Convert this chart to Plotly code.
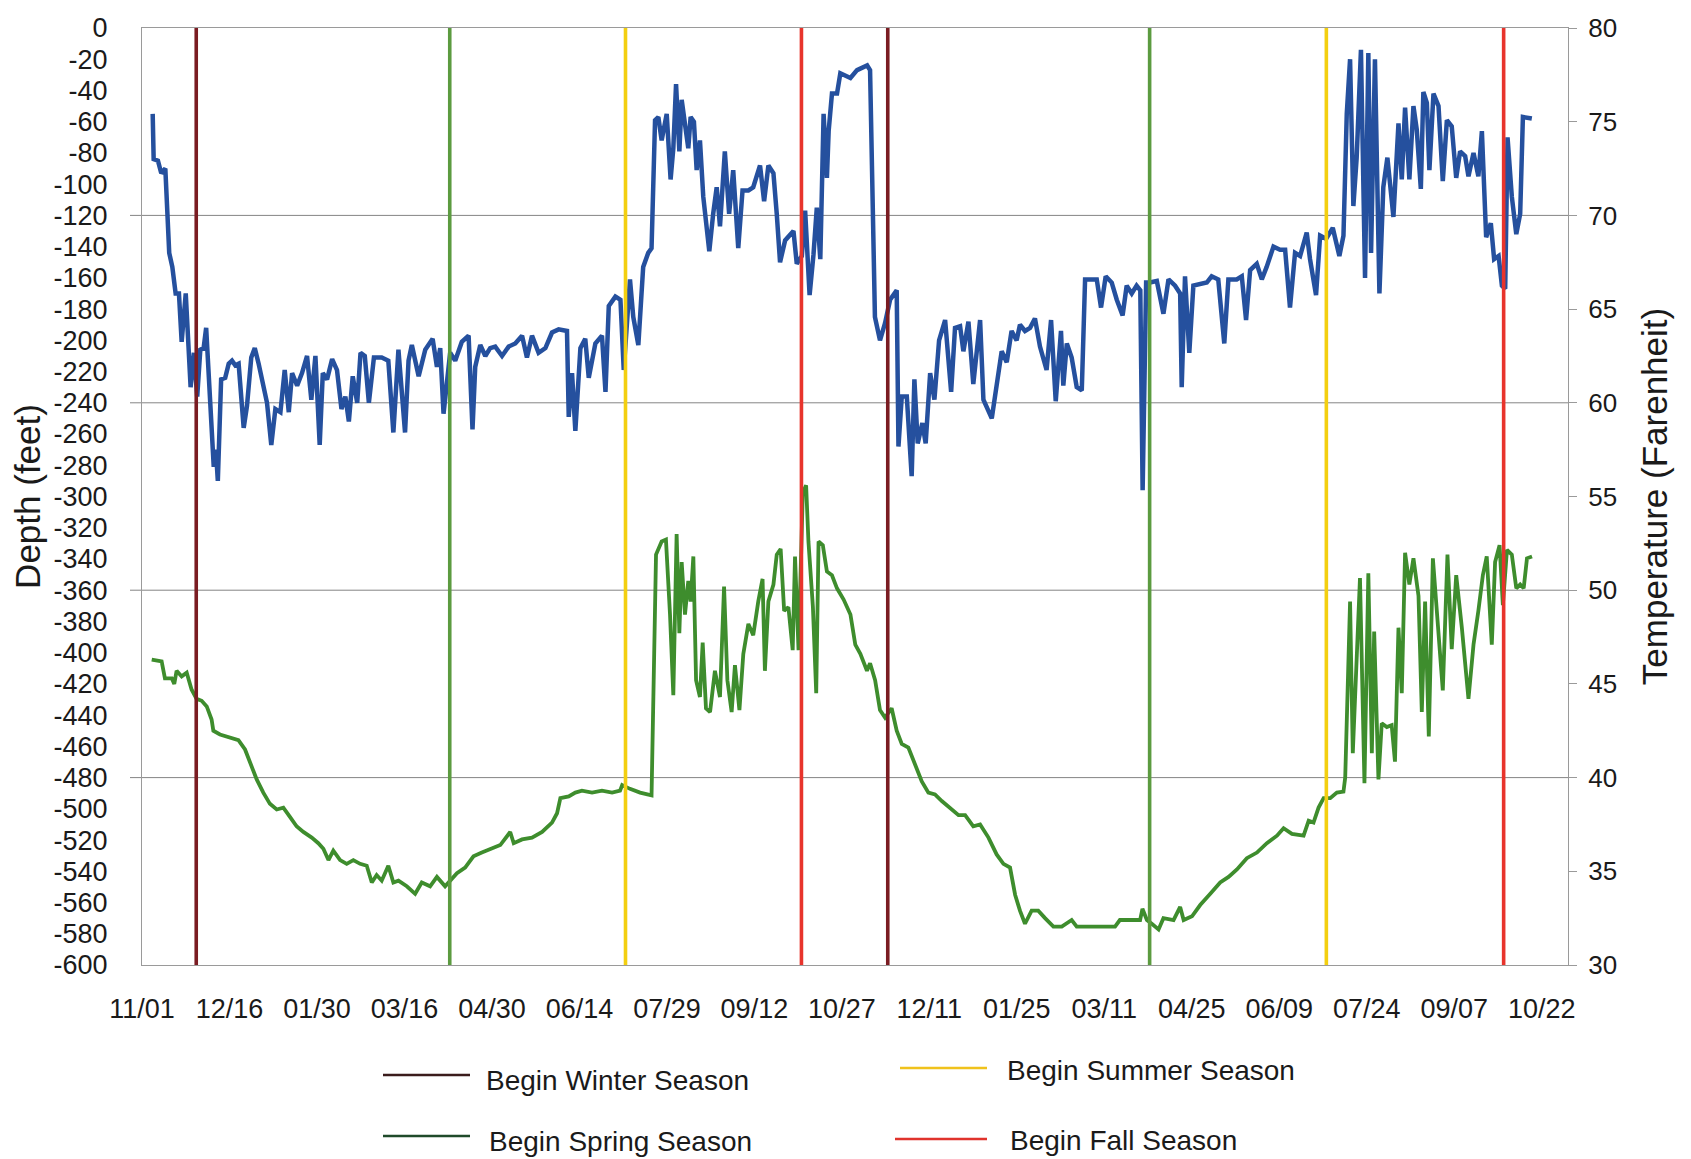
import pandas as pd
import plotly.graph_objects as go

# ---------------- data ----------------
START = "2009-11-01"  # first x tick (11/01); x values below are day offsets from it

x_tick_days = [0, 45, 90, 135, 180, 225, 270, 315, 360, 405, 450, 495, 540, 585, 630, 675, 720]
x_tick_labels = ["11/01", "12/16", "01/30", "03/16", "04/30", "06/14", "07/29", "09/12", "10/27",
                 "12/11", "01/25", "03/11", "04/25", "06/09", "07/24", "09/07", "10/22"]

depth_ticks = [0, -20, -40, -60, -80, -100, -120, -140, -160, -180, -200, -220, -240, -260, -280,
               -300, -320, -340, -360, -380, -400, -420, -440, -460, -480, -500, -520, -540, -560,
               -580, -600]
temp_ticks = [30, 35, 40, 45, 50, 55, 60, 65, 70, 75, 80]
grid_temps = [40, 50, 60, 70]

# blue series (depth, feet)
blue_days = [5.5, 6, 8.2, 9.9, 12, 14, 15.6, 17.3, 19, 20.4, 22.5, 23.8, 25, 26.7, 28.4, 30, 31.7, 33,
             34.3, 36.9, 38, 39, 40.7, 42.8, 44.6, 46.3, 48, 49.7, 52.3, 54, 56.2, 58, 60, 62.6, 64.3,
             66.5, 68.6, 71.2, 73.4, 75.5, 77.2, 79.8, 82.3, 84.9, 87.1, 89.2, 91.4, 93, 95.2, 97.8,
             100.3, 102.6, 104.6, 106.4, 108.4, 110.7, 112.4, 114.6, 116.7, 119.3,
             123.3, 126.7, 129.3, 131.9, 135.3, 137.1, 138.8, 142.3, 145.7, 149.5, 151.7, 153.4, 155.1,
             158.5, 161.1, 164.5, 168, 170, 171.4, 174, 176.6, 179.1, 181.7, 185.2, 188.6, 192, 195.5,
             198, 200.6, 204, 207.5, 210.9, 214.3, 218.6, 219.5, 221.2, 222.9, 225.5, 228, 229.8,
             233.2, 236.6, 238.4, 240.1, 243.5, 246.1, 247.8,
             251, 252.7, 255.3, 257.8, 260.4, 262.1, 263.9, 265.6, 267.3, 269.9, 271.9, 273.3, 274.7,
             276.4, 277.6, 279.3, 281, 282.2, 283.9, 285.3, 287, 288.7, 290.1, 291.8, 293.8, 295.6,
             297.3, 299.8, 302, 304.1, 306.7, 308.9, 311.9, 314.4, 317.9, 320, 322.2, 324.8, 326.5,
             328.2, 330.8, 333.3, 335.1, 336.8, 339.4, 341.1, 343.4, 345.4, 347.1, 348.9, 350.6,
             352.3, 353.2, 354.9, 357.5, 359.2, 364.4, 367.8, 373,
             374.5, 376.2, 377, 379.6, 382.2, 384.8, 388.2, 389.1, 390.8, 393.4, 395.9, 397.3, 399,
             401.4, 403.1, 405.4, 407.6, 410, 413.1, 416.2, 418.2, 420.8, 422.5, 425.1, 427.6, 431.1,
             432.8, 437.1, 439.6, 442.2, 444.8, 447.3, 449.9, 451.6, 454.2, 456.8, 459.3, 461.9,
             465.3, 467.6, 470, 472.7, 473.9, 475.7, 478.2, 480.8, 483.4, 485.1, 488.5, 491.1, 493.3,
             495.7, 498.8,
             501.4, 504.4, 506.5, 509.1, 511.6, 513.5, 514.7, 516.5, 518.5, 522, 525.4, 528, 531.4,
             534, 534.8, 536.5, 538.7, 540.8, 544.2, 547.7, 550.2, 553.6, 556.7, 558.8, 563.1, 565.7,
             567.9, 570, 573.4, 576, 578.5, 582, 585.4, 588, 590.5, 593.1, 595.7, 599.1, 600.8,
             603.9, 606, 609.1, 612.5, 615.9, 618, 619.7, 621.4, 623.1, 624.8, 627, 629.1, 630.8,
             632.2, 634.2, 636.5, 638.5, 640.6, 643.7, 646.3, 648, 649.7, 651.9, 654, 655.7, 657.8,
             659.1, 660.9, 662.2, 664.3, 666.9, 669.1, 671.2, 673.7, 676, 678, 680.6, 682.3, 684.9,
             687.4, 689.2, 691.4, 693.8, 695.5, 697.8, 699.5, 701.2, 702.4, 704.6, 706.9, 708.9,
             710.3, 714.9]
blue_depth = [-55, -84, -85, -93, -90, -144, -153, -170, -170, -201, -170, -210, -230, -208, -236, -206,
              -205, -192, -223, -281, -270, -290, -225, -224, -215, -213, -216, -215, -256, -242, -211,
              -205, -215, -232, -240, -267, -244, -246, -219, -246, -221, -229, -221, -210, -238, -210,
              -267, -221, -225, -212, -219, -244, -236, -252, -223, -240, -208, -210, -240, -211,
              -211, -213, -259, -206, -259, -213, -203, -223, -206, -199, -217, -205, -247,
              -208, -213, -201, -197, -257, -217, -203, -210, -205, -204, -210, -204, -202, -197,
              -211, -197, -208, -205, -195, -193, -194, -249, -221, -258, -205, -199, -224,
              -202, -197, -233, -178, -172, -174, -219,
              -161, -185, -203, -153, -144, -141, -59, -57, -72, -55, -97, -77, -36,
              -79, -46, -60, -77, -57, -60, -91, -72, -108, -125, -143, -119, -102,
              -127, -79, -119, -91, -141, -104, -104, -102, -88, -111, -88, -93, -119,
              -150, -136, -132, -130, -151, -146, -117, -171, -145, -115, -148, -55,
              -96, -66, -42, -42, -29, -32, -27, -24,
              -27, -123, -185, -200, -189, -174, -168, -268, -236, -236, -287, -225, -266,
              -253, -266, -221, -238, -200, -187, -233, -192, -191, -207, -188, -228, -187,
              -238, -250, -228, -207, -214, -194, -200, -190, -194, -192, -186, -204,
              -219, -187, -239, -194, -229, -202, -211, -230, -232, -161, -161, -161, -179,
              -159, -163,
              -174, -184, -165, -170, -165, -168, -296, -163, -163, -162, -183, -161, -165,
              -170, -230, -159, -208, -165, -164, -163, -159, -161, -202, -161, -161, -159,
              -187, -155, -151, -161, -153, -140, -142, -142, -179, -144, -146, -131, -148,
              -171, -133, -135, -128, -146, -133, -55, -20, -114, -83, -14, -160, -16,
              -144, -20, -170, -102, -83, -121, -61, -97, -51, -97, -50, -65, -103,
              -41, -48, -91, -42, -50, -98, -59, -63, -96, -79, -82, -95, -80,
              -95, -66, -134, -125, -148, -146, -165, -167, -70, -108, -132, -119,
              -57, -58]

# green series (temperature, Fahrenheit)
green_days = [5, 10.1, 11.8, 15.3, 16.6, 17.8, 20.4, 23, 25.5, 28.1, 30.7, 33.3, 35.8, 36.7, 40.1, 43.6,
              47, 49.6, 53, 56.4, 59, 62.4, 65.8, 69.3, 72.7, 76.1, 79.5, 83, 87.3, 90.7, 93.3, 95.9,
              98.4, 101.9, 105.3, 108.7, 112.2, 115.6, 118.2, 120.7, 123.3, 126.7, 129.3, 131.9,
              136.2, 140.5, 143.9, 148.2, 151.7, 155.9, 158.5, 162, 166.2, 170.5, 174.8, 179.1,
              184.3, 189.4, 191.2, 195.5, 200.6, 205.8, 210.9, 213.5, 215.2, 219.5, 222.9, 226.3,
              231.5, 236.6, 241.8, 245.9, 247, 251, 256.2, 262.1, 263, 264.4, 267.3, 269.5, 271.6,
              273.3, 275, 276.4, 277.6, 279.3, 281, 282.2, 283.6, 285, 287, 288.4, 290.1, 292.2,
              294.7, 297.3, 299.4, 301.1, 303.3, 305, 307.3, 309.3, 311.9, 314.4, 317, 319.2, 320.4,
              322.2, 324.8, 326.5, 328.5, 330.3, 332.5, 334.7, 335.9, 337.7, 339.9, 341.6, 342.8,
              345.1, 346.8, 348, 350.2, 352.3, 354.9, 357.5, 360.9, 364.4, 366.9, 369.5, 372.9,
              374.5, 377.1, 379.6, 382.2, 385.6, 388.2, 390.8, 394.2, 397.7, 401.1, 404.5, 407.9,
              411.4, 415.7, 420, 423.4, 427.6, 431.1, 435.4, 439.6, 443.1, 446.5, 449.1, 451.6,
              454.2, 457.6, 461, 464.5, 468.8, 473.1, 475.6, 478.2, 480.8, 486.8, 493.6, 500.5,
              503, 508.2, 513.4, 514.6, 516.9, 519.4, 522.9, 525.4, 530.6, 534, 535.8, 540.1, 544.3,
              549.5, 554.6, 558.9, 563.2, 568.3, 573.5, 578.6, 583.8, 587.2, 591.5, 597.5, 600.1,
              602.6, 605.2, 607.8, 611.2, 614.6, 618, 618.9, 621.4, 622.8, 624.8, 626.5, 628.8,
              630.8, 632.6, 633.8, 636, 637.7, 640.3, 642.8, 644.5, 646.3, 648, 649.7, 651.9, 654,
              656.6, 658.3, 660, 661.9, 664, 666.4, 669.1, 671.5, 673.7, 676, 678.9, 682.3, 684.9,
              687.4, 689.7, 691.7, 694.3, 696, 698.3, 700, 702.1, 704.6, 706.9, 708.9, 710.7,
              712.4, 715]
green_temp = [46.3, 46.2, 45.3, 45.3, 45.0, 45.7, 45.4, 45.6, 44.7, 44.2, 44.1, 43.8, 43.1, 42.5, 42.3,
              42.2, 42.1, 42.0, 41.5, 40.6, 39.9, 39.2, 38.6, 38.3, 38.4, 37.9, 37.4, 37.1, 36.8, 36.5,
              36.2, 35.6, 36.1, 35.6, 35.4, 35.6, 35.4, 35.3, 34.4, 34.8, 34.5, 35.3, 34.4, 34.5,
              34.2, 33.8, 34.4, 34.2, 34.7, 34.2, 34.5, 34.9, 35.2, 35.8, 36.0, 36.2,
              36.4, 37.1, 36.5, 36.7, 36.8, 37.1, 37.6, 38.1, 38.9, 39.0, 39.2, 39.3,
              39.2, 39.3, 39.2, 39.3, 39.6, 39.4, 39.2, 39.05, 44.5, 51.9, 52.6, 52.7, 48.7,
              44.4, 53.0, 47.7, 51.5, 48.7, 50.5, 49.4, 51.8, 45.2, 44.3, 47.2, 43.7, 43.5,
              45.7, 44.3, 50.2, 45.2, 43.5, 46.0, 43.6, 46.6, 48.2, 47.6, 49.4, 50.6, 45.7,
              49.4, 50.3, 51.9, 52.2, 48.9, 49.1, 46.8, 51.8, 46.8, 55.2, 55.6, 52.6,
              49.1, 44.5, 52.6, 52.4, 51.0, 50.8, 50.1, 49.5, 48.7, 47.1, 46.6, 45.7,
              46.1, 45.2, 43.6, 43.2, 43.7, 42.5, 41.8, 41.6, 40.7, 39.8, 39.2, 39.1,
              38.75, 38.4, 38.0, 38.0, 37.4, 37.5, 36.8, 35.9, 35.4, 35.2, 33.75, 32.9,
              32.2, 32.9, 32.9, 32.5, 32.05, 32.05, 32.2, 32.4, 32.05, 32.05, 32.1, 32.05,
              32.4, 32.4, 32.4, 33.0, 32.4, 32.2, 31.9, 32.5, 32.4, 33.1, 32.4, 32.6, 33.2,
              33.8, 34.4, 34.7, 35.1, 35.7, 36.0, 36.5, 36.9, 37.3, 37.0, 36.9, 37.7,
              37.6, 38.4, 38.9, 38.9, 39.2, 39.25, 40.0, 49.4, 41.3, 46.6, 50.65, 39.7,
              50.9, 41.3, 47.8, 39.9, 42.9, 42.7, 42.8, 40.85, 48.0, 44.5, 52.0, 50.3, 51.7,
              49.7, 43.5, 49.4, 42.2, 51.7, 48.5, 44.65, 51.9, 46.85, 50.8, 48.0, 44.2, 47.1,
              48.9, 50.8, 51.8, 47.1, 51.5, 52.4, 49.2, 52.15, 51.9, 50.1, 50.3, 50.1,
              51.7, 51.8]

season_names = ["Begin Winter Season", "Begin Summer Season", "Begin Spring Season", "Begin Fall Season"]
season_colors = ["#7a1c22", "#f3cf10", "#5c9b40", "#e8342c"]
season_legend_colors = ["#3b1c1c", "#f0c21c", "#1f4a2a", "#e0332c"]
season_days = [[27.9, 383.6], [248.7, 609.2], [158.3, 518.3], [339.2, 700.4]]

# ---------------- helpers ----------------
start = pd.Timestamp(START)


def to_date(days):
    return [start + pd.Timedelta(days=float(d)) for d in days]


FONT = "Liberation Sans, Arial, sans-serif"
W, H = 1691, 1159
PL, PR, PT, PB = 142, 1568, 28, 965  # plot area in pixels


def px(xp):
    return (xp - PL) / (PR - PL)


def py(yp):
    return (PB - yp) / (PB - PT)


fig = go.Figure()

fig.add_trace(go.Scatter(x=to_date(blue_days), y=blue_depth, mode="lines", yaxis="y",
                         line=dict(color="#25509e", width=4.5), showlegend=False))
fig.add_trace(go.Scatter(x=to_date(green_days), y=green_temp, mode="lines", yaxis="y2",
                         line=dict(color="#3e8d2d", width=3.8), showlegend=False))

for name, col, days in zip(season_names, season_colors, season_days):
    for d in days:
        fig.add_trace(go.Scatter(x=to_date([d, d]), y=[temp_ticks[0], temp_ticks[-1]], mode="lines",
                                 yaxis="y2", line=dict(color=col, width=3.6), showlegend=False,
                                 name=name))

shapes = []
for t in grid_temps:
    shapes.append(dict(type="line", xref="paper", yref="y2", x0=px(PL - 12), x1=1, y0=t, y1=t,
                       line=dict(color="#858585", width=1), layer="below"))

# manual legend (2 x 2 grid below the chart)
legend_pos = [  # line x0, x1, line y, text x, text y  (pixels)
    (383, 470, 1075, 484, 1080),
    (900, 987, 1068, 1005, 1070),
    (383, 470, 1136, 487, 1141),
    (895, 987, 1139, 1008, 1140),
]
annotations = []
for name, col, (lx0, lx1, ly, tx, ty) in zip(season_names, season_legend_colors, legend_pos):
    shapes.append(dict(type="line", xref="paper", yref="paper", x0=px(lx0), x1=px(lx1),
                       y0=py(ly), y1=py(ly), line=dict(color=col, width=2.6)))
    annotations.append(dict(xref="paper", yref="paper", x=px(tx), y=py(ty), text=name,
                            showarrow=False, xanchor="left", yanchor="middle",
                            font=dict(family=FONT, size=28, color="#1a1a1a")))

fig.update_layout(
    width=W, height=H,
    margin=dict(l=PL, r=W - PR, t=PT, b=H - PB),
    paper_bgcolor="white", plot_bgcolor="white",
    font=dict(family=FONT, color="#1a1a1a"),
    showlegend=False,
    shapes=shapes, annotations=annotations,
    xaxis=dict(type="date", range=[start, start + pd.Timedelta(days=733.5)],
               tickvals=to_date(x_tick_days), ticktext=x_tick_labels,
               tickfont=dict(size=27), ticks="", showgrid=False, zeroline=False,
               showline=True, linecolor="#9a9a9a", linewidth=1, mirror=True,
               ticklabelstandoff=20),
    yaxis=dict(range=[-600, 0], tickvals=depth_ticks, ticktext=[str(v) for v in depth_ticks],
               tickfont=dict(size=27), ticks="", showgrid=False, zeroline=False,
               showline=True, linecolor="#9a9a9a", linewidth=1, ticklabelstandoff=28,
               title=dict(text="Depth (feet)", font=dict(size=35), standoff=2)),
    yaxis2=dict(range=[30, 80], overlaying="y", side="right", tickvals=temp_ticks,
                ticktext=[str(v) for v in temp_ticks], tickfont=dict(size=26),
                ticks="outside", ticklen=8, tickcolor="#9a9a9a", showgrid=False, zeroline=False,
                showline=True, linecolor="#9a9a9a", linewidth=1, ticklabelstandoff=6,
                title=dict(text="Temperature (Farenheit)", font=dict(size=35), standoff=26)),
)

fig.write_html("out.html")
